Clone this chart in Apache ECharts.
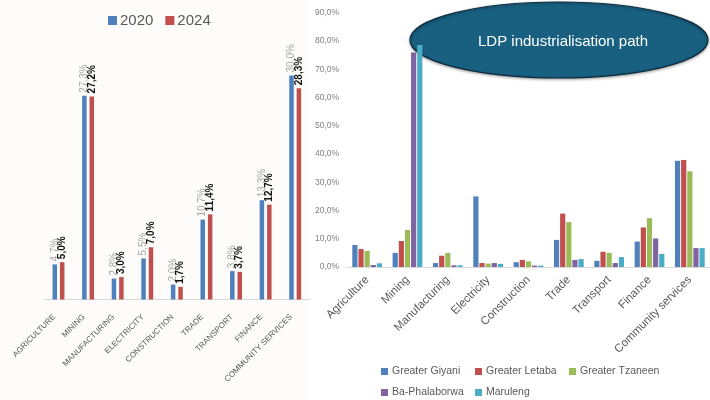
<!DOCTYPE html>
<html>
<head>
<meta charset="utf-8">
<script src="https://cdn.jsdelivr.net/npm/echarts@6/dist/echarts.min.js"></script>
<style>
  html, body { margin: 0; padding: 0; background: #ffffff; }
  #chart { width: 710px; height: 400px; }
</style>
</head>
<body>
<div id="chart"></div>
<script>
// Left panel: sector shares, 2020 vs 2024
const sectorsUpper = ['AGRICULTURE', 'MINING', 'MANUFACTURING', 'ELECTRICITY', 'CONSTRUCTION',
  'TRADE', 'TRANSPORT', 'FINANCE', 'COMMUNITY SERVICES'];
const share2020 = [4.7, 27.3, 2.8, 5.5, 2.0, 10.7, 3.8, 13.3, 30.0];
const share2024 = [5.0, 27.2, 3.0, 7.0, 1.7, 11.4, 3.7, 12.7, 28.3];

// Right panel: sector shares by municipality
const sectors = ['Agriculture', 'Mining', 'Manufacturing', 'Electricity', 'Construction',
  'Trade', 'Transport', 'Finance', 'Community services'];
const giyani   = [7.8, 5.0, 1.4, 25.0, 1.7, 9.6, 2.2, 9.0, 37.6];
const letaba   = [6.4, 9.2, 4.0, 1.4, 2.5, 18.9, 5.4, 14.0, 37.9];
const tzaneen  = [5.7, 13.1, 5.0, 1.2, 2.0, 15.9, 5.0, 17.3, 33.9];
const phalaborwa = [0.7, 75.9, 0.6, 1.4, 0.5, 2.5, 1.4, 10.1, 6.7];
const maruleng = [1.3, 78.6, 0.6, 1.1, 0.5, 2.8, 3.5, 4.6, 6.7];
const rightTicks = { min: 0, max: 90, interval: 10 };

const pct = v => v.toFixed(1).replace('.', ',') + '%';

const C = {
  blue: '#4F81BD', red: '#C0504D', green: '#9BBB59', purple: '#8064A2', cyan: '#4BACC6'
};

const chart = echarts.init(document.getElementById('chart'), null, { renderer: 'canvas' });

function legendItem(name, left, top) {
  return {
    data: [name], left: left, top: top, orient: 'horizontal',
    itemWidth: 7, itemHeight: 7, icon: 'rect', padding: 0,
    textStyle: { fontFamily: 'Liberation Sans', fontSize: 10.5, color: '#595959', padding: [0, 0, 0, -1] }
  };
}

const option = {
  animation: false,
  backgroundColor: '#ffffff',
  textStyle: { fontFamily: 'Liberation Sans' },
  graphic: [
    { type: 'rect', z: -10, shape: { x: 0, y: 0, width: 310, height: 400 }, style: { fill: '#fdfcfa' } },
    {
      type: 'ellipse', z: 1,
      shape: { cx: 559, cy: 40, rx: 149, ry: 38 },
      style: {
        fill: '#185f80', stroke: '#0c2d3d', lineWidth: 1.2,
        shadowBlur: 3, shadowColor: 'rgba(0,0,0,0.35)', shadowOffsetY: 1
      }
    },
    {
      type: 'text', z: 2, x: 563, y: 42,
      style: {
        text: 'LDP industrialisation path',
        align: 'center', verticalAlign: 'middle',
        fill: '#ffffff', font: '15px "Liberation Sans"'
      }
    }
  ],
  legend: [
    {
      data: ['2020', '2024'], left: 108, top: 13, itemWidth: 9, itemHeight: 9,
      icon: 'rect', itemGap: 12, padding: 0,
      textStyle: { fontFamily: 'Liberation Sans', fontSize: 15, color: '#595959', padding: [0, 0, 0, -2] }
    },
    legendItem('Greater Giyani', 381, 366),
    legendItem('Greater Letaba', 475, 366),
    legendItem('Greater Tzaneen', 569, 366),
    legendItem('Ba-Phalaborwa', 381, 387),
    legendItem('Maruleng', 475, 387)
  ],
  grid: [
    { left: 43.7, right: 400, top: 75.5, bottom: 100.5 },
    { left: 347, right: -5, top: 12.8, bottom: 133 }
  ],
  xAxis: [
    {
      gridIndex: 0, type: 'category', data: sectorsUpper,
      axisLine: { lineStyle: { color: '#d9d9d9' } },
      axisTick: { show: false },
      axisLabel: { rotate: 45, fontSize: 8, color: '#595959', margin: 12, interval: 0, padding: [0, 6, 0, 0] }
    },
    {
      gridIndex: 1, type: 'category', data: sectors,
      axisLine: { lineStyle: { color: '#d9d9d9' } },
      axisTick: { show: false },
      axisLabel: { rotate: 45, fontSize: 11.5, color: '#595959', margin: 11, interval: 0 }
    }
  ],
  yAxis: [
    { gridIndex: 0, type: 'value', min: 0, max: 30, show: false },
    {
      gridIndex: 1, type: 'value', min: rightTicks.min, max: rightTicks.max, interval: rightTicks.interval,
      axisLine: { show: false }, axisTick: { show: false }, splitLine: { show: false },
      axisLabel: { fontSize: 8.5, color: '#7f7f7f', margin: 8, formatter: pct }
    }
  ],
  series: [
    {
      name: '2020', type: 'bar', xAxisIndex: 0, yAxisIndex: 0, data: share2020,
      barWidth: 4.5, barGap: '65%', itemStyle: { color: C.blue },
      label: {
        show: true, position: 'top', rotate: 90, align: 'left', verticalAlign: 'middle',
        distance: 3, fontSize: 10, color: '#a6a6a6', formatter: p => pct(p.value)
      }
    },
    {
      name: '2024', type: 'bar', xAxisIndex: 0, yAxisIndex: 0, data: share2024,
      barWidth: 4.5, barGap: '65%', itemStyle: { color: C.red },
      label: {
        show: true, position: 'top', rotate: 90, align: 'left', verticalAlign: 'middle',
        distance: 3, fontSize: 10, fontWeight: 'bold', color: '#111111', formatter: p => pct(p.value)
      }
    },
    { name: 'Greater Giyani', type: 'bar', xAxisIndex: 1, yAxisIndex: 1, data: giyani,
      barWidth: 5.2, barGap: '18%', itemStyle: { color: C.blue } },
    { name: 'Greater Letaba', type: 'bar', xAxisIndex: 1, yAxisIndex: 1, data: letaba,
      barWidth: 5.2, barGap: '18%', itemStyle: { color: C.red } },
    { name: 'Greater Tzaneen', type: 'bar', xAxisIndex: 1, yAxisIndex: 1, data: tzaneen,
      barWidth: 5.2, barGap: '18%', itemStyle: { color: C.green } },
    { name: 'Ba-Phalaborwa', type: 'bar', xAxisIndex: 1, yAxisIndex: 1, data: phalaborwa,
      barWidth: 5.2, barGap: '18%', itemStyle: { color: C.purple } },
    { name: 'Maruleng', type: 'bar', xAxisIndex: 1, yAxisIndex: 1, data: maruleng,
      barWidth: 5.2, barGap: '18%', itemStyle: { color: C.cyan } }
  ]
};

chart.setOption(option);
</script>
</body>
</html>
